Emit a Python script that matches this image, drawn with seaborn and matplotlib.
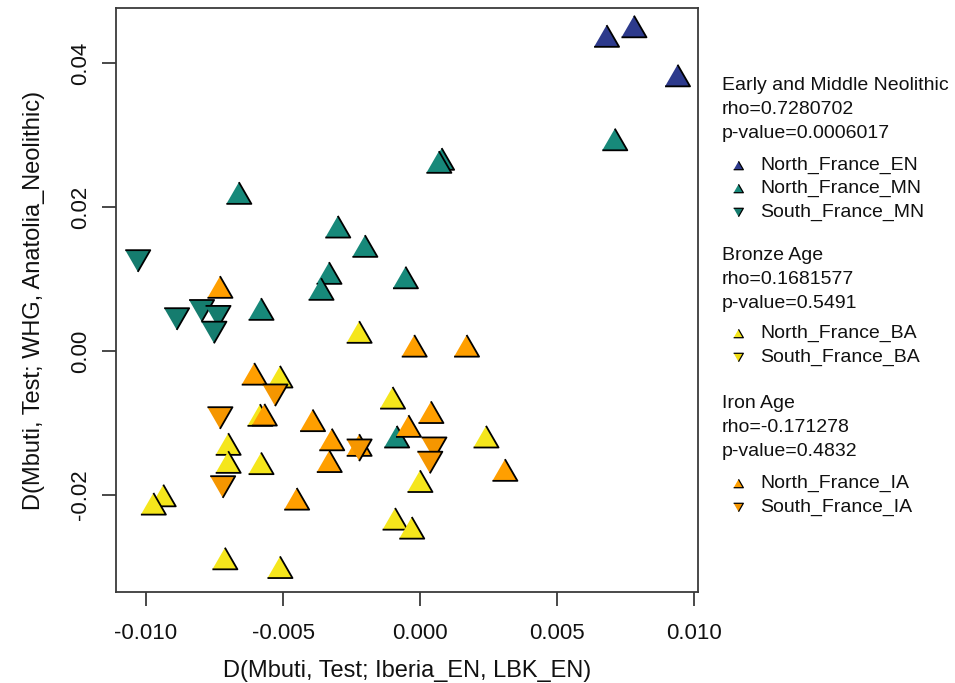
import numpy as np
import pandas as pd
import matplotlib
matplotlib.use("Agg")
import matplotlib.pyplot as plt
from matplotlib.lines import Line2D
import seaborn as sns

# ================= DATA =================
# D(Mbuti, Test; Iberia_EN, LBK_EN) and D(Mbuti, Test; WHG, Anatolia_Neolithic)
nf_en_x = [0.00781, 0.00681, 0.00940]
nf_en_y = [0.04507, 0.04375, 0.03826]

nf_mn_x = [-0.00661, -0.00300, -0.00201, -0.00332, -0.00361, -0.00053,
           -0.00580, 0.00711, 0.00079, 0.00069, -0.00085]
nf_mn_y = [0.02194, 0.01726, 0.01458, 0.01083, 0.00861, 0.01021,
           0.00583, 0.02938, 0.02667, 0.02625, -0.01190]

sf_mn_x = [-0.01030, -0.00888, -0.00797, -0.00737, -0.00752]
sf_mn_y = [0.01250, 0.00444, 0.00558, 0.00476, 0.00257]

nf_ba_x = [-0.00222, -0.00511, -0.00584, -0.00700, -0.00700, -0.00580,
           -0.00937, -0.00973, -0.00091, -0.00030, -0.00712, -0.00511,
           -0.00100, 0.00241, 0.00000]
nf_ba_y = [0.00264, -0.00357, -0.00889, -0.01292, -0.01542, -0.01560,
           -0.02007, -0.02122, -0.02331, -0.02456, -0.02882, -0.03003,
           -0.00650, -0.01190, -0.01808]

sf_ba_x = []
sf_ba_y = []

nf_ia_x = [-0.00730, -0.00605, -0.00568, -0.00392, -0.00322, -0.00222,
           -0.00331, -0.00450, -0.00021, 0.00170, 0.00040, -0.00042, 0.00310]
nf_ia_y = [0.00889, -0.00317, -0.00885, -0.00963, -0.01229, -0.01306,
           -0.01531, -0.02053, 0.00072, 0.00072, -0.00850, -0.01042, -0.01653]

sf_ia_x = [-0.00529, -0.00730, -0.00720, -0.00222, 0.00051, 0.00036]
sf_ia_y = [-0.00615, -0.00931, -0.01889, -0.01379, -0.01351, -0.01549]

groups = ["North_France_EN", "North_France_MN", "South_France_MN",
          "North_France_BA", "South_France_BA",
          "North_France_IA", "South_France_IA"]
xs = [nf_en_x, nf_mn_x, sf_mn_x, nf_ba_x, sf_ba_x, nf_ia_x, sf_ia_x]
ys = [nf_en_y, nf_mn_y, sf_mn_y, nf_ba_y, sf_ba_y, nf_ia_y, sf_ia_y]

colors = {
    "North_France_EN": "#2d3a8c",
    "North_France_MN": "#17897a",
    "South_France_MN": "#157c6e",
    "North_France_BA": "#f5e61c",
    "South_France_BA": "#f0dc10",
    "North_France_IA": "#ff9f00",
    "South_France_IA": "#f59600",
}

blocks = [
    (["Early and Middle Neolithic", "rho=0.7280702", "p-value=0.0006017"],
     ["North_France_EN", "North_France_MN", "South_France_MN"]),
    (["Bronze Age", "rho=0.1681577", "p-value=0.5491"],
     ["North_France_BA", "South_France_BA"]),
    (["Iron Age", "rho=-0.171278", "p-value=0.4832"],
     ["North_France_IA", "South_France_IA"]),
]

# ================= MARKERS =================
tri_up = [(-1, -0.866), (1, -0.866), (0, 0.866)]
tri_down = [(-1, 0.866), (1, 0.866), (0, -0.866)]
markers = {g: (tri_down if g.startswith("South") else tri_up) for g in groups}

df = pd.concat([pd.DataFrame({"x": x, "y": y, "group": g})
                for g, x, y in zip(groups, xs, ys)], ignore_index=True)

# ================= PLOT =================
sns.set_style("white")
plt.rcParams["font.family"] = ["Liberation Sans", "DejaVu Sans"]

fig = plt.figure(figsize=(9.55, 6.83), dpi=100)
ax = fig.add_axes([116 / 955, 1 - 592 / 683, 582 / 955, 584 / 683])

sns.scatterplot(data=df, x="x", y="y", hue="group", style="group",
                palette=colors, markers=markers, s=324,
                edgecolor="black", linewidth=1.3, alpha=1,
                legend=False, ax=ax)

ax.set_xlim(-0.011095, 0.010146)
ax.set_ylim(-0.033472, 0.047639)
ax.set_xticks([-0.010, -0.005, 0.000, 0.005, 0.010])
ax.set_xticklabels(["-0.010", "-0.005", "0.000", "0.005", "0.010"])
ax.set_yticks([-0.02, 0.00, 0.02, 0.04])
ax.set_yticklabels(["-0.02", "0.00", "0.02", "0.04"])

for sp in ax.spines.values():
    sp.set_color("#3a3a3a")
    sp.set_linewidth(1.3)
ax.tick_params(axis="both", which="major", direction="out", length=10,
               width=1.3, color="#3a3a3a", labelsize=16, labelcolor="#111111",
               bottom=True, left=True)
ax.tick_params(axis="x", pad=12)
ax.tick_params(axis="y", pad=8)
for lab in ax.get_yticklabels():
    lab.set_rotation(90)
    lab.set_va("center")

ax.set_xlabel("D(Mbuti, Test; Iberia_EN, LBK_EN)", fontsize=17,
              labelpad=12, color="#111111")
ax.set_ylabel("D(Mbuti, Test; WHG, Anatolia_Neolithic)", fontsize=17,
              labelpad=18, color="#111111")

# ================= LEGEND =================
header_y = [85, 255, 403]
entry_y = [[165, 188, 212], [333, 357], [483, 507]]
for (lines, members), hy, ey in zip(blocks, header_y, entry_y):
    for i, txt in enumerate(lines):
        fig.text(722 / 955, 1 - (hy + i * 24) / 683, txt, fontsize=14,
                 ha="left", va="center", color="#111111")
    for g, yy in zip(members, ey):
        fy = 1 - yy / 683
        fig.add_artist(Line2D([738 / 955], [fy], transform=fig.transFigure,
                              marker=markers[g], markersize=7,
                              markerfacecolor=colors[g],
                              markeredgecolor="black", markeredgewidth=0.9,
                              linestyle="none"))
        fig.text(760 / 955, fy, g, fontsize=14, ha="left", va="center",
                 color="#111111")

fig.savefig("out.png", dpi=100)
